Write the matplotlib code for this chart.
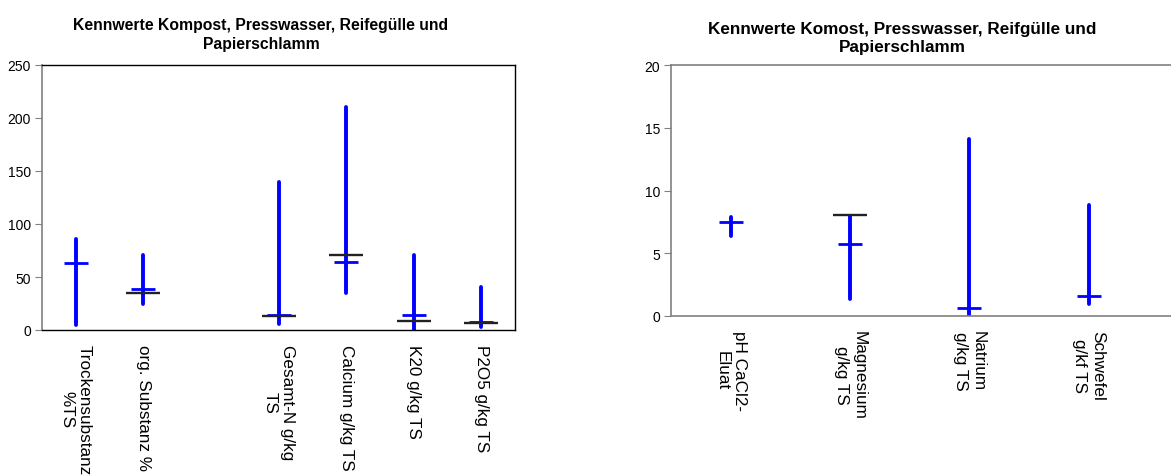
import numpy as np
import matplotlib
matplotlib.use("Agg")
import matplotlib.pyplot as plt

plt.rcParams['font.family'] = ['Liberation Sans', 'DejaVu Sans']

# ---- Left chart data ----
left_labels = ["Trockensubstanz\n%TS", "org. Substanz %", "", "Gesamt-N g/kg\nTS",
               "Calcium g/kg TS", "K20 g/kg TS", "P2O5 g/kg TS"]
left_high = [85.7, 70.7, np.nan, 140.0, 210.7, 70.7, 40.8]
left_low = [4.7, 24.5, np.nan, 5.7, 34.9, 0.0, 2.5]
left_mean = [63.0, 38.3, np.nan, 14.1, 64.4, 14.4, 7.2]
left_median = [np.nan, 35.2, np.nan, 13.5, 71.0, 8.8, 6.9]
left_title = "Kennwerte Kompost, Presswasser, Reifegülle und\nPapierschlamm"
left_yticks = [0, 50, 100, 150, 200, 250]

# ---- Right chart data ----
right_labels = ["pH CaCl2-\nEluat", "Magnesium\ng/kg TS", "Natrium\ng/kg TS", "Schwefel\ng/kf TS"]
right_high = [7.9, 8.0, 14.08, 8.87]
right_low = [6.4, 1.38, 0.08, 0.98]
right_mean = [7.46, 5.7, 0.64, 1.59]
right_median = [np.nan, 8.05, np.nan, np.nan]
right_title = "Kennwerte Komost, Presswasser, Reifgülle und\nPapierschlamm"
right_yticks = [0, 5, 10, 15, 20]

W, H = 1171, 477
fig = plt.figure(figsize=(W / 100, H / 100), dpi=100)

BLUE = "#0000ff"
GRAY = "#808080"


def draw(ax, labels, high, low, mean, median, yticks, pad):
    x = np.arange(len(labels))
    ax.vlines(x, low, high, color=BLUE, linewidth=2.8, capstyle='round', zorder=2)
    ax.plot(x, mean, linestyle='none', marker='_', markersize=17,
            markeredgewidth=2.0, color=BLUE, zorder=3)
    ax.plot(x, median, linestyle='none', marker='_', markersize=25,
            markeredgewidth=1.7, color="#222222", zorder=4)
    ax.set_yticks(yticks)
    ax.set_ylim(yticks[0], yticks[-1])
    ax.set_xticks(x)
    ax.set_xticklabels(labels, rotation=270, fontsize=12.3, ha='center', va='top',
                       multialignment='center')
    ax.tick_params(axis='x', length=0, pad=pad)
    ax.tick_params(axis='y', length=5, color=GRAY, labelsize=10, pad=3)


# Left axes
l_left, l_right, l_top, l_bottom = 42, 515, 66, 331
ax1 = fig.add_axes([l_left / W, (H - l_bottom) / H, (l_right - l_left) / W, (l_bottom - l_top) / H])
draw(ax1, left_labels, left_high, left_low, left_mean, left_median, left_yticks, pad=10)
ax1.set_xlim(-0.5, len(left_labels) - 0.5)
for s in ['top', 'right', 'bottom']:
    ax1.spines[s].set_color('black')
    ax1.spines[s].set_linewidth(1.0)
ax1.spines['left'].set_color(GRAY)
ax1.spines['left'].set_linewidth(1.2)
ax1.set_title(left_title, fontsize=11.3, fontweight='bold', pad=12, linespacing=1.35,
              x=(261 - l_left) / (l_right - l_left))

# Right axes
r_left, r_right, r_top, r_bottom = 671, 1171, 66, 317
ax2 = fig.add_axes([r_left / W, (H - r_bottom) / H, (r_right - r_left) / W, (r_bottom - r_top) / H])
draw(ax2, right_labels, right_high, right_low, right_mean, right_median, right_yticks, pad=10)
spacing = 119.3
ax2.set_xlim(-0.5, -0.5 + (r_right - r_left) / spacing)
for s in ['top', 'left', 'bottom']:
    ax2.spines[s].set_color(GRAY)
    ax2.spines[s].set_linewidth(1.2)
ax2.spines['right'].set_visible(False)
ax2.set_title(right_title, fontsize=12.3, fontweight='bold', pad=10, linespacing=1.3,
              x=(902 - r_left) / (r_right - r_left))

fig.savefig("out.png", dpi=100, facecolor='white')
